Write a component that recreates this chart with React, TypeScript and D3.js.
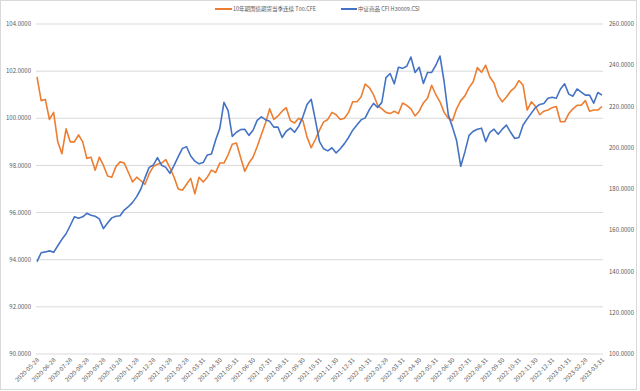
import * as d3 from "d3";

// x labels, one every 4 samples
const dateLabels = [
  "2020-05-28", "2020-06-28", "2020-07-28", "2020-08-28", "2020-09-28", "2020-10-28",
  "2020-11-28", "2020-12-28", "2021-01-28", "2021-02-28", "2021-03-31", "2021-04-30",
  "2021-05-31", "2021-06-30", "2021-07-31", "2021-08-31", "2021-09-30", "2021-10-31",
  "2021-11-30", "2021-12-31", "2022-01-31", "2022-02-28", "2022-03-31", "2022-04-30",
  "2022-05-31", "2022-06-30", "2022-07-31", "2022-08-31", "2022-09-30", "2022-10-31",
  "2022-11-30", "2022-12-31", "2023-01-31", "2023-02-28", "2023-03-31",
];

// 10年期国债期货当季连续 (left axis)
const bondFut = [
  101.76, 100.75, 100.8, 99.95, 100.25, 99.0, 98.5, 99.55, 99.0, 99.0,
  99.3, 99.0, 98.3, 98.35, 97.8, 98.35, 98.0, 97.55, 97.5, 97.95,
  98.15, 98.1, 97.7, 97.3, 97.5, 97.35, 97.2, 97.65, 97.95, 98.05,
  98.1, 98.25, 97.9, 97.5, 97.0, 96.95, 97.2, 97.45, 96.8, 97.5,
  97.3, 97.5, 97.8, 97.7, 98.1, 98.1, 98.45, 98.9, 98.95, 98.35,
  97.75, 98.1, 98.35, 98.8, 99.3, 99.8, 100.4, 99.95, 100.1, 100.3,
  100.45, 99.9, 99.8, 100.0, 99.9, 99.2, 98.75, 99.1, 99.5, 99.85,
  99.95, 100.25, 100.15, 99.95, 100.0, 100.25, 100.7, 100.7, 100.9, 101.45,
  101.3, 101.0, 100.55, 100.4, 100.25, 100.2, 100.3, 100.2, 100.65, 100.55,
  100.4, 100.1, 100.3, 100.65, 100.85, 101.4, 101.0, 100.7, 100.25, 100.0,
  99.9, 100.4, 100.75, 100.95, 101.3, 101.55, 102.15, 101.95, 102.25, 101.75,
  101.5, 100.95, 100.7, 100.9, 101.15, 101.3, 101.6, 101.4, 100.35, 100.7,
  100.5, 100.15, 100.3, 100.35, 100.45, 100.5, 99.85, 99.85, 100.2, 100.4,
  100.55, 100.55, 100.75, 100.3, 100.35, 100.35, 100.5,
];

// 中证商品 CFI H30009.CSI (right axis)
const commodity = [
  144.8, 149.1, 149.5, 150.0, 149.3, 152.5, 155.6, 158.3, 162.3, 166.5,
  165.8, 166.5, 168.2, 167.3, 166.8, 165.5, 160.8, 163.5, 166.0, 166.8,
  167.0, 169.8, 171.4, 173.5, 176.3, 180.0, 185.5, 190.5, 191.6, 195.2,
  191.5, 190.5, 187.6, 191.5, 195.7, 199.7, 200.5, 196.0, 193.5, 192.2,
  192.8, 196.5, 197.0, 203.8, 209.4, 222.0, 218.0, 205.5, 207.5, 208.8,
  209.0, 206.0, 208.5, 213.3, 215.0, 213.6, 212.8, 210.0, 210.0, 205.0,
  208.0, 209.5, 207.5, 210.5, 215.0, 221.0, 223.5, 213.5, 203.0, 199.5,
  198.5, 200.0, 197.5, 199.5, 202.0, 205.0, 208.5, 211.0, 213.5, 214.5,
  218.5, 221.5, 219.5, 222.0, 234.0, 236.0, 231.0, 239.0, 238.5, 239.5,
  244.0, 236.5, 239.0, 231.2, 236.5, 236.5, 240.0, 244.5, 232.0, 216.0,
  210.0, 203.5, 191.0, 198.0, 206.0, 208.0, 209.0, 209.5, 203.0, 207.5,
  209.0, 206.5, 209.0, 211.0, 207.5, 204.5, 205.0, 211.0, 214.0, 216.8,
  219.5, 221.0, 221.5, 224.0, 224.5, 224.0, 228.5, 231.0, 226.0, 225.0,
  228.5, 227.0, 225.5, 225.5, 221.6, 226.8, 225.5,
];

const leftTicks = [90, 92, 94, 96, 98, 100, 102, 104];
const rightTicks = [100, 120, 140, 160, 180, 200, 220, 240, 260];

const W = 640;
const H = 391;
const left = 37;
const right = 602;
const top = 24;
const bottom = 354;

const ORANGE = "#ED7D31";
const BLUE = "#4472C4";
const GRID = "#d9d9d9";
const TEXT = "#595959";
const FONT = "'Noto Sans CJK SC', 'DejaVu Sans', sans-serif";

export default function App() {
  const x = d3.scaleLinear().domain([0, bondFut.length - 1]).range([left, right]);
  const yL = d3.scaleLinear().domain([90, 104]).range([bottom, top]);
  const yR = d3.scaleLinear().domain([100, 260]).range([bottom, top]);
  const fmt = d3.format(".4f");

  const lineL = d3.line<number>().x((_, i) => x(i)).y((d) => yL(d));
  const lineR = d3.line<number>().x((_, i) => x(i)).y((d) => yR(d));

  return (
    <svg
      width={W}
      height={H}
      style={{ position: "absolute", left: 0, top: 0, background: "#fff" }}
      fontFamily={FONT}
    >
      <rect x={0.5} y={0.5} width={636} height={389} fill="#fff" stroke={GRID} />

      {/* gridlines */}
      {leftTicks.map((t) => (
        <line key={t} x1={left - 1} x2={right + 1} y1={yL(t)} y2={yL(t)} stroke={GRID} strokeWidth={1} />
      ))}

      {/* left axis labels */}
      {leftTicks.map((t) => (
        <text key={t} x={31} y={yL(t)} dy="0.35em" textAnchor="end" fontSize={6} fill={TEXT}>
          {fmt(t)}
        </text>
      ))}

      {/* right axis labels */}
      {rightTicks.map((t) => (
        <text key={t} x={609} y={yR(t)} dy="0.35em" textAnchor="start" fontSize={6} fill={TEXT}>
          {fmt(t)}
        </text>
      ))}

      {/* x labels */}
      {dateLabels.map((d, i) => {
        const px = x(i * 4);
        return (
          <text
            key={d}
            transform={`translate(${px + 1},${bottom + 5}) rotate(-45)`}
            textAnchor="end"
            dy="0.35em"
            fontSize={6}
            fill={TEXT}
          >
            {d}
          </text>
        );
      })}

      <path d={lineL(bondFut) ?? ""} fill="none" stroke={ORANGE} strokeWidth={1.6} strokeLinejoin="round" />
      <path d={lineR(commodity) ?? ""} fill="none" stroke={BLUE} strokeWidth={1.6} strokeLinejoin="round" />

      {/* legend */}
      <g fontSize={5.5} fill={TEXT}>
        <line x1={215} x2={232} y1={9} y2={9} stroke={ORANGE} strokeWidth={2} />
        <text x={233} y={9} dy="0.35em">10年期国债期货当季连续 T00.CFE</text>
        <line x1={341} x2={357} y1={9} y2={9} stroke={BLUE} strokeWidth={2} />
        <text x={358} y={9} dy="0.35em">中证商品 CFI H30009.CSI</text>
      </g>
    </svg>
  );
}
